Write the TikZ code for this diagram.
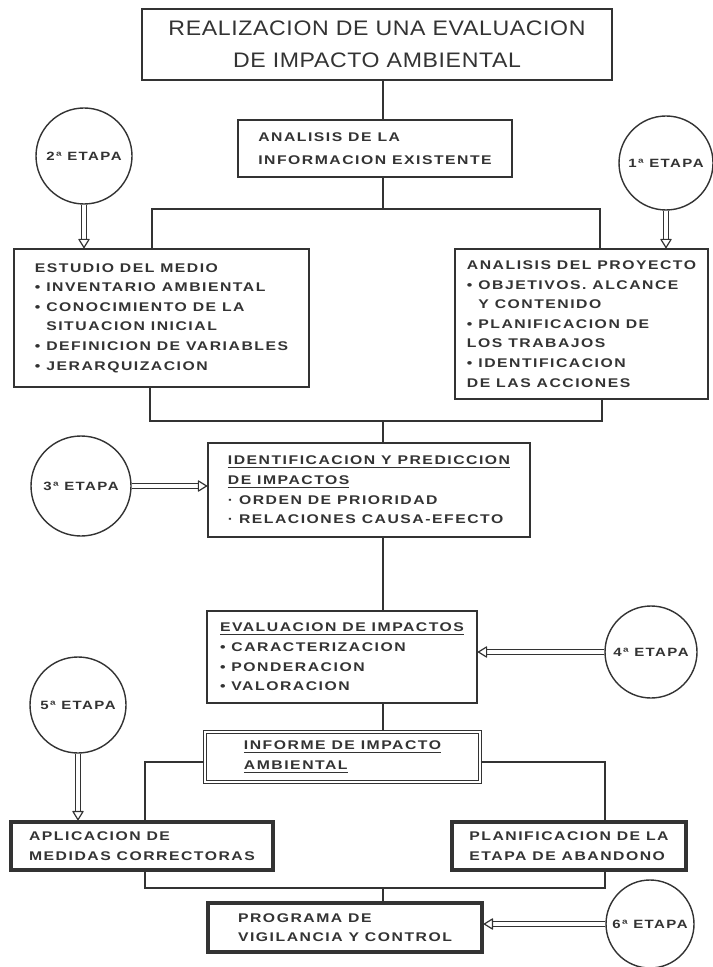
\documentclass[tikz,border=0pt]{standalone}
\usepackage{fontspec}
\usetikzlibrary{arrows.meta}
\newfontfamily\titlefont[FakeStretch=1.1, LetterSpace=3]{Liberation Sans}
\newfontfamily\boxfont[FakeStretch=1.25, LetterSpace=12]{Liberation Sans}
\definecolor{ink}{gray}{0.2}
\tikzset{
	box/.style = {draw, rectangle, line width=0.8pt, align=left, inner sep=0pt,
		font=\boxfont\bfseries\fontsize{6.3}{9.8}\selectfont},
	thickbox/.style = {box, line width=1.7pt},
	doublebox/.style = {box, double, line width=0.6pt, double distance=1.2pt},
	stage/.style = {draw, circle, line width=0.7pt, inner sep=0pt,
		font=\boxfont\bfseries\fontsize{6}{7}\selectfont},
	link/.style = {line width=0.8pt},
	stagearrow/.style = {double, line width=0.6pt, double distance=1.6pt,
		-{Triangle[open, round, length=5pt, width=6pt]}}
}
\newcommand{\bul}{\textbullet\ }
\newcommand{\sbul}{\textperiodcentered\ }
\newcommand{\ind}{\phantom{\textbullet\ }}

\begin{document}
\begin{tikzpicture}[x=0.5pt, y=-0.5pt, color=ink]
	\fill[white] (0,0) rectangle (712,967);
	\useasboundingbox (0,0) rectangle (712,967);

	% boxes
	\node[box, align=center, minimum width=235pt, minimum height=35.5pt,
		font=\titlefont\fontsize{10.5}{16}\selectfont] (titulo) at (377,44.5)
		{REALIZACION DE UNA EVALUACION\\DE IMPACTO AMBIENTAL};
	\node[box, minimum width=137pt, minimum height=28.5pt,
		font=\boxfont\bfseries\fontsize{6.3}{11.5}\selectfont] (analisis) at (375,148.5)
		{ANALISIS DE LA\\INFORMACION EXISTENTE};
	\node[box, minimum width=147.5pt, minimum height=69pt] (estudio) at (161.5,318)
		{ESTUDIO DEL MEDIO\\\bul INVENTARIO AMBIENTAL\\\bul CONOCIMIENTO DE LA\\\ind SITUACION INICIAL\\\bul DEFINICION DE VARIABLES\\\bul JERARQUIZACION};
	\node[box, minimum width=126.5pt, minimum height=75pt] (proyecto) at (581.5,324)
		{ANALISIS DEL PROYECTO\\\bul OBJETIVOS. ALCANCE\\\ind Y CONTENIDO\\\bul PLANIFICACION DE\\LOS TRABAJOS\\\bul IDENTIFICACION\\DE LAS ACCIONES};
	\node[box, minimum width=161pt, minimum height=47pt] (identificacion) at (369,490)
		{\underline{IDENTIFICACION Y PREDICCION}\\\underline{DE IMPACTOS}\\\sbul ORDEN DE PRIORIDAD\\\sbul RELACIONES CAUSA-EFECTO};
	\node[box, minimum width=135pt, minimum height=46pt] (evaluacion) at (342,657)
		{\underline{EVALUACION DE IMPACTOS}\\\bul CARACTERIZACION\\\bul PONDERACION\\\bul VALORACION};
	\node[doublebox, minimum width=137.5pt, minimum height=25pt] (informe) at (342.5,757)
		{\underline{INFORME DE IMPACTO}\\\underline{AMBIENTAL}};
	\node[thickbox, minimum width=131pt, minimum height=24pt] (aplicacion) at (142,846)
		{APLICACION DE\\MEDIDAS CORRECTORAS};
	\node[thickbox, minimum width=117pt, minimum height=24pt] (planificacion) at (569,846)
		{PLANIFICACION DE LA\\ETAPA DE ABANDONO};
	\node[thickbox, minimum width=137pt, minimum height=24.5pt] (programa) at (345,927.5)
		{PROGRAMA DE\\VIGILANCIA Y CONTROL};

	% etapas
	\node[stage, minimum size=48pt] (etapa2) at (84,156) {2ª ETAPA};
	\node[stage, minimum size=47pt] (etapa1) at (666,163) {1ª ETAPA};
	\node[stage, minimum size=50pt] (etapa3) at (81,486) {3ª ETAPA};
	\node[stage, minimum size=46pt] (etapa4) at (651,652) {4ª ETAPA};
	\node[stage, minimum size=48pt] (etapa5) at (78,705) {5ª ETAPA};
	\node[stage, minimum size=44pt] (etapa6) at (650,924) {6ª ETAPA};

	% connections
	\coordinate (spine) at (383,0);
	\coordinate (busA) at (152,209);
	\coordinate (busB) at (600,209);
	\coordinate (busC) at (150,421);
	\coordinate (busD) at (602,421);
	\coordinate (busE) at (145,762);
	\coordinate (busF) at (605,762);
	\coordinate (busG) at (145,888);
	\coordinate (busH) at (605,888);
	\draw[link] (spine |- titulo.south) -- (spine |- analisis.north);
	\draw[link] (spine |- analisis.south) -- (spine |- busA);
	\draw[link] (busA |- estudio.north) -- (busA) -- (busB) -- (busB |- proyecto.north);
	\draw[link] (busC |- estudio.south) -- (busC) -- (busD) -- (busD |- proyecto.south);
	\draw[link] (spine |- busC) -- (spine |- identificacion.north);
	\draw[link] (spine |- identificacion.south) -- (spine |- evaluacion.north);
	\draw[link] (spine |- evaluacion.south) -- (spine |- informe.north);
	\draw[link] (informe.west |- busE) -- (busE) -- (busE |- aplicacion.north);
	\draw[link] (informe.east |- busF) -- (busF) -- (busF |- planificacion.north);
	\draw[link] (busG |- aplicacion.south) -- (busG) -- (busH) -- (busH |- planificacion.south);
	\draw[link] (spine |- busG) -- (spine |- programa.north);

	\draw[stagearrow] (etapa2) -- (etapa2 |- estudio.north);
	\draw[stagearrow] (etapa1) -- (etapa1 |- proyecto.north);
	\draw[stagearrow] (etapa3) -- (etapa3 -| identificacion.west);
	\draw[stagearrow] (etapa4) -- (etapa4 -| evaluacion.east);
	\draw[stagearrow] (etapa5) -- (etapa5 |- aplicacion.north);
	\draw[stagearrow] (etapa6) -- (etapa6 -| programa.east);
\end{tikzpicture}
\end{document}
